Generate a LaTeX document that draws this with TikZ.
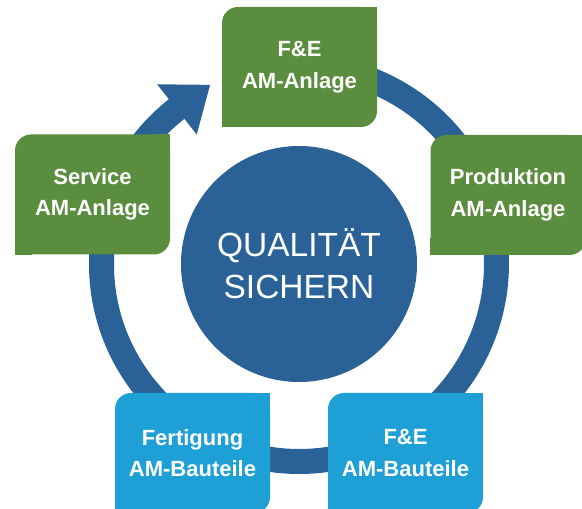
\documentclass[tikz,border=0pt]{standalone}
\usepackage{fontspec}
\setmainfont{Liberation Sans}
\definecolor{leafgreen}{HTML}{5A8E3E}
\definecolor{ringblue}{HTML}{2A6298}
\definecolor{skyblue}{HTML}{1E9FD5}
\begin{document}
\begin{tikzpicture}[x=1pt,y=1pt,
  leaf/.style={minimum width=155pt, minimum height=120pt, inner sep=0pt,
    rounded corners=16pt, text=white, align=center,
    font=\fontsize{22}{31.5}\selectfont\bfseries},
  greenleaf/.style={leaf, fill=leafgreen},
  blueleaf/.style={leaf, fill=skyblue},
  hub/.style={circle, fill=ringblue, minimum size=236pt, inner sep=0pt,
    text=white, align=center, font=\fontsize{33.5}{42}\selectfont}]
\useasboundingbox (0,0) rectangle (582,509);
\clip (0,0) rectangle (582,509);

% cycle ring with its arrow head
\coordinate (ctr) at (299,245);
\draw[ringblue, line width=25pt]
  ([shift={(127.5:197.5)}]ctr) arc[start angle=127.5, end angle=470, radius=197.5];
\fill[ringblue] ([shift={(128.3:165)}]ctr) -- ([shift={(116.4:200)}]ctr)
  -- ([shift={(128.3:229)}]ctr) -- cycle;

% centre
\node[hub] (hub) at (ctr) {QUALITÄT\\SICHERN};

% stations, rounded at top left and bottom right only
\node[greenleaf] (fea) at (299.5,442) {F\&E\\AM-Anlage};
\node[greenleaf] (pra) at (508,314) {Produktion\\AM-Anlage};
\node[greenleaf] (sva) at (92.5,314.5) {Service\\AM-Anlage};
\node[blueleaf] (feb) at (405.5,56) {F\&E\\AM-Bauteile};
\node[blueleaf] (fgb) at (192.5,56) {Fertigung\\AM-Bauteile};

\foreach \n/\c in {fea/leafgreen, pra/leafgreen, sva/leafgreen, feb/skyblue, fgb/skyblue}{
  \fill[\c] (\n.north east) rectangle ++(-17,-17);
  \fill[\c] (\n.south west) rectangle ++(17,17);
}
\end{tikzpicture}
\end{document}
